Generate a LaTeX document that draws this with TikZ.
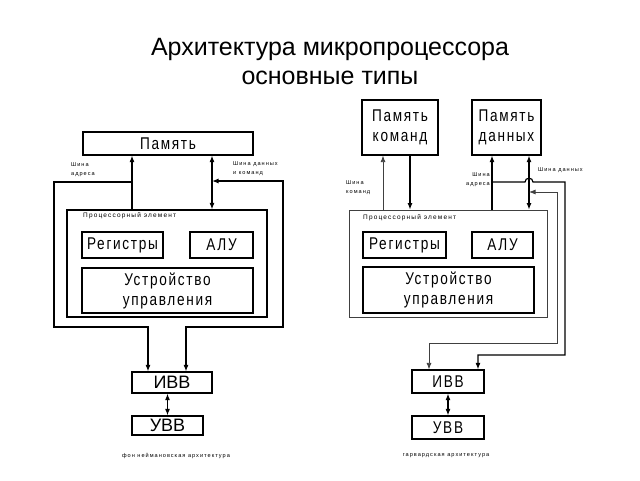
\documentclass[tikz,border=0pt]{standalone}
\usepackage{fontspec}
\setmainfont{Liberation Sans}
\newfontfamily\boxfont[LetterSpace=10,FakeStretch=0.8]{Liberation Sans}
\newfontfamily\tinyfont[LetterSpace=18]{Liberation Sans}
\usetikzlibrary{arrows.meta}

\tikzset{
	blk/.style={draw, line width=1.2pt, inner sep=0pt, align=center,
		font=\boxfont\fontsize{17}{20}\selectfont},
	pe/.style={draw, line width=1.2pt, inner sep=0pt},
	lbl/.style={inner sep=0pt, align=left, font=\tinyfont\fontsize{6.5}{10.5}\selectfont},
	sml/.style={lbl, font=\tinyfont\fontsize{5.6}{9}\selectfont},
	bus/.style={line width=1.2pt},
	lbus/.style={line width=0.8pt, draw=black!75},
}

\begin{document}
\begin{tikzpicture}[x=1pt, y=-1pt, >={Latex[length=6.5pt,width=5pt]}]
	\useasboundingbox (0,0) rectangle (640,480);
	% title
	\node[align=center, font=\fontsize{25}{29}\selectfont] (title) at (330,62)
		{Архитектура микропроцессора\\основные типы};

	% von Neumann
	\node[blk, minimum width=170, minimum height=23] (mem) at (168,143.5) {Память};
	\node[pe, minimum width=200, minimum height=107] (proc) at (167,263.5) {};
	\node[lbl, anchor=west] (procL) at (83,216) {Процессорный элемент};
	\node[blk, minimum width=81, minimum height=26] (reg) at (122.5,245) {Регистры};
	\node[blk, minimum width=63, minimum height=26] (alu) at (221.5,245) {АЛУ};
	\node[blk, minimum width=171, minimum height=45] (cu) at (167.5,290.5) {Устройство\\управления};
	\node[blk, font=\fontsize{18}{20}\selectfont, minimum width=80, minimum height=21] (ivv) at (172,382.5) {ИВВ};
	\node[blk, font=\fontsize{18}{20}\selectfont, minimum width=71, minimum height=19] (uvv) at (167.5,425.5) {УВВ};
	\node[sml, anchor=west] (abL) at (71,170) {Шина\\адреса};
	\node[sml, anchor=west] (dbL) at (233,168.5) {Шина данных\\и команд};
	\node[sml] (capL) at (176,456) {фон неймановская архитектура};

	\coordinate (ab) at (132,182);
	\coordinate (db) at (212,181);
	\coordinate (ai) at (148,327);
	\coordinate (di) at (186,327);
	\draw[bus, ->] (ab |- proc.north) -- (ab |- mem.south);
	\draw[bus, <->] (db |- mem.south) -- (db |- proc.north);
	\draw[bus, ->] (ab) -- ++(-78,0) |- (ai) -- (ai |- ivv.north);
	\draw[bus, <->] (db) -- ++(71,0) |- (di) -- (di |- ivv.north);
	\draw[bus, <->] (uvv.north) -- (uvv.north |- ivv.south);

	% Harvard
	\node[blk, minimum width=76, minimum height=55] (memC) at (400,127.5) {Память\\команд};
	\node[blk, minimum width=69, minimum height=55] (memD) at (506.5,127.5) {Память\\данных};
	\node[pe, line width=0.8pt, draw=black!75, minimum width=198, minimum height=107] (proc2) at (448,263.5) {};
	\node[lbl, anchor=west] (proc2L) at (363,218) {Процессорный элемент};
	\node[blk, minimum width=83, minimum height=26] (reg2) at (404.5,245) {Регистры};
	\node[blk, minimum width=61, minimum height=26] (alu2) at (502.5,245) {АЛУ};
	\node[blk, minimum width=171, minimum height=46] (cu2) at (448.5,290) {Устройство\\управления};
	\node[blk, minimum width=72, minimum height=23] (ivv2) at (448,381.5) {ИВВ};
	\node[blk, minimum width=72, minimum height=23] (uvv2) at (448,427.5) {УВВ};
	\node[sml, anchor=west] (kbL) at (346,187.5) {Шина\\команд};
	\node[sml, anchor=east, align=right] (ab2L) at (490,180) {Шина\\адреса};
	\node[sml, anchor=west] (db2L) at (538,170) {Шина данных};
	\node[sml] (capR) at (446,456) {гарвардская архитектура};

	\coordinate (kc) at (383,187);
	\coordinate (kd) at (410,187);
	\coordinate (ab2) at (492,182);
	\coordinate (db2) at (529,192);
	\coordinate (ai2) at (478,355);
	\coordinate (di2) at (429,343);
	\draw[lbus, ->] (kc |- proc2.north) -- (kc |- memC.south);
	\draw[bus, ->] (kd |- memC.south) -- (kd |- proc2.north);
	\draw[bus, ->] (ab2 |- proc2.north) -- (ab2 |- memD.south);
	\draw[bus, <->] (db2 |- memD.south) -- (db2 |- proc2.north);
	\draw[bus, ->] (ab2) -- (525,182) .. controls (525,177) and (533,177) .. (533,182)
		-- (565,182) |- (ai2) -- (ai2 |- ivv2.north);
	\draw[lbus, <->] (db2) -- (557,192) |- (di2) -- (di2 |- ivv2.north);
	\draw[bus, <->] (uvv2.north) -- (ivv2.south);
\end{tikzpicture}
\end{document}
